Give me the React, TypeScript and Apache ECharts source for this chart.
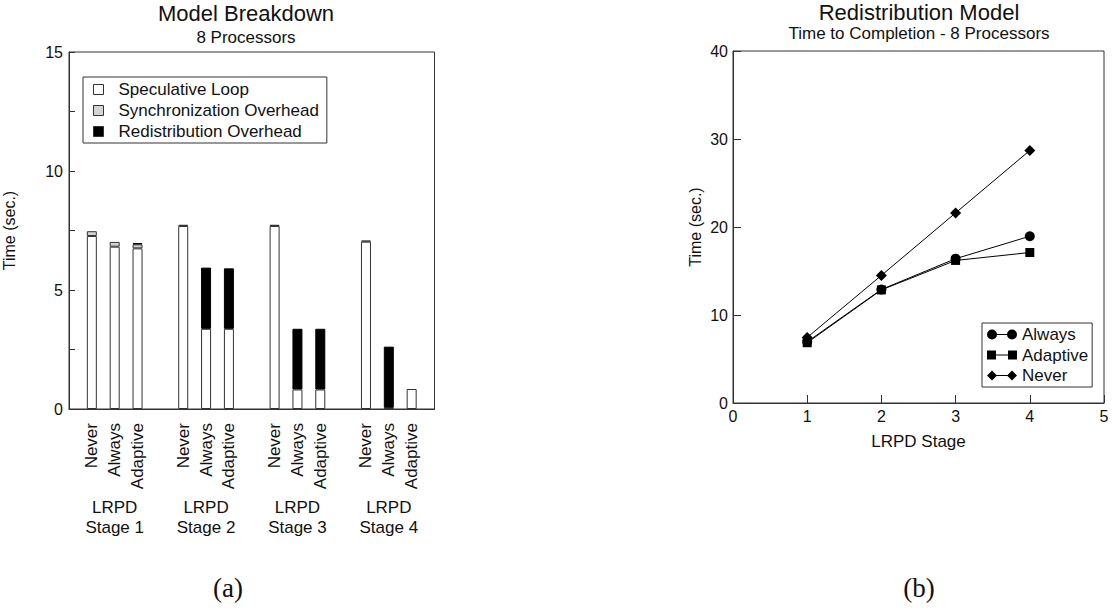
import React, { useEffect, useRef } from "react";
import * as echarts from "echarts";

// ---- Data: panel (a) Model Breakdown ----
const stageNames = ["Stage 1", "Stage 2", "Stage 3", "Stage 4"];
const modeNames = ["Never", "Always", "Adaptive"];
// order: stage-major (Stage1 Never, Always, Adaptive, Stage2 ...)
const speculativeLoop = [7.27, 6.82, 6.75, 7.69, 3.37, 3.37, 7.69, 0.82, 0.82, 7.03, 0.05, 0.84];
const syncOverhead = [0.2, 0.2, 0.17, 0.05, 0, 0, 0.05, 0, 0, 0.05, 0, 0];
const redistOverhead = [0, 0, 0.05, 0, 2.57, 2.54, 0, 2.55, 2.55, 0, 2.57, 0];
const leftYTicks = [0, 5, 10, 15];

// ---- Data: panel (b) Redistribution Model ----
const lrpdStage = [1, 2, 3, 4];
const alwaysTime = [6.95, 12.9, 16.4, 18.95];
const adaptiveTime = [6.85, 12.85, 16.2, 17.1];
const neverTime = [7.45, 14.5, 21.6, 28.7];

const FONT = "'Liberation Sans', Arial, Helvetica, sans-serif";
const SERIF = "'Liberation Serif', 'DejaVu Serif', 'Times New Roman', serif";
const INK = "#111";

export default function App() {
  const ref = useRef<HTMLDivElement>(null);

  useEffect(() => {
    if (!ref.current) return;
    const chart = echarts.init(ref.current, undefined, { renderer: "svg" });

    // Category slots: one empty slot before each group of three bars, one after the last
    const slots: string[] = [];
    const slotLabel: Record<string, string> = {};
    const groupLabel: Record<string, string> = {};
    const slotIndex: number[] = [];
    slots.push("gap0");
    stageNames.forEach((s, si) => {
      modeNames.forEach((m, mi) => {
        const key = "s" + si + "m" + mi;
        slotIndex.push(slots.length);
        slots.push(key);
        slotLabel[key] = m;
        if (mi === 1) groupLabel[key] = "LRPD\n" + s;
      });
      slots.push("gap" + (si + 1));
    });
    const toSlots = (arr: number[]) => {
      const out: (number | string)[] = slots.map(() => "-");
      arr.forEach((v, i) => {
        if (v > 0) out[slotIndex[i]] = v;
      });
      return out;
    };

    const circleIcon =
      "path://M0,5A5,5,0,1,1,10,5A5,5,0,1,1,0,5ZM9,4.55L21,4.55L21,5.45L9,5.45ZM20,5A5,5,0,1,1,30,5A5,5,0,1,1,20,5Z";
    const squareIcon =
      "path://M0,0.5L9,0.5L9,9.5L0,9.5ZM8,4.55L22,4.55L22,5.45L8,5.45ZM21,0.5L30,0.5L30,9.5L21,9.5Z";
    const diamondIcon =
      "path://M0,5L5,0L10,5L5,10ZM9,4.55L21,4.55L21,5.45L9,5.45ZM20,5L25,0L30,5L25,10Z";

    const option: any = {
      animation: false,
      backgroundColor: "#fff",
      textStyle: { fontFamily: FONT, color: INK },
      title: [
        {
          text: "Model Breakdown",
          subtext: "8 Processors",
          left: 246,
          top: 2,
          textAlign: "center",
          padding: 0,
          itemGap: 5,
          textStyle: { fontFamily: FONT, fontSize: 22, fontWeight: "normal", color: INK },
          subtextStyle: { fontFamily: FONT, fontSize: 17, color: INK },
        },
        {
          text: "Redistribution Model",
          subtext: "Time to Completion - 8 Processors",
          left: 919,
          top: 1,
          textAlign: "center",
          padding: 0,
          itemGap: 2,
          textStyle: { fontFamily: FONT, fontSize: 22, fontWeight: "normal", color: INK },
          subtextStyle: { fontFamily: FONT, fontSize: 17, color: INK },
        },
        {
          text: "(a)",
          left: 228,
          top: 574,
          textAlign: "center",
          padding: 0,
          textStyle: { fontFamily: SERIF, fontSize: 27, fontWeight: "normal", color: INK },
        },
        {
          text: "(b)",
          left: 919,
          top: 574,
          textAlign: "center",
          padding: 0,
          textStyle: { fontFamily: SERIF, fontSize: 27, fontWeight: "normal", color: INK },
        },
      ],
      legend: [
        {
          orient: "vertical",
          left: 83,
          top: 77,
          padding: [4, 8, 3, 10],
          itemGap: 4,
          itemWidth: 10,
          itemHeight: 10,
          borderColor: "#333",
          borderWidth: 1,
          backgroundColor: "#fff",
          icon: "rect",
          itemStyle: { borderColor: "#333", borderWidth: 1 },
          textStyle: { fontFamily: FONT, fontSize: 17, color: INK, padding: [0, 0, 0, 10] },
          data: ["Speculative Loop", "Synchronization Overhead", "Redistribution Overhead"],
        },
        {
          orient: "vertical",
          left: 982,
          top: 323,
          padding: [3, 4, 3, 5],
          itemGap: 3.5,
          itemWidth: 30,
          itemHeight: 10,
          borderColor: "#333",
          borderWidth: 1,
          backgroundColor: "#fff",
          textStyle: { fontFamily: FONT, fontSize: 17, color: INK },
          data: [
            { name: "Always", icon: circleIcon },
            { name: "Adaptive", icon: squareIcon },
            { name: "Never", icon: diamondIcon },
          ],
        },
      ],
      grid: [
        { left: 58.5, top: 52, width: 376, height: 357, show: true, borderColor: "#333", borderWidth: 1, backgroundColor: "transparent" },
        { left: 733, top: 51, width: 371, height: 352, show: true, borderColor: "#333", borderWidth: 1, backgroundColor: "transparent" },
      ],
      xAxis: [
        {
          type: "category",
          gridIndex: 0,
          data: slots,
          boundaryGap: false,
          axisLine: { show: true, lineStyle: { color: "#333" } },
          axisTick: { show: false },
          splitLine: { show: false },
          axisLabel: {
            interval: 0,
            rotate: 90,
            margin: 14,
            fontFamily: FONT,
            fontSize: 17,
            color: INK,
            formatter: (v: string) => slotLabel[v] || "",
          },
        },
        {
          type: "category",
          gridIndex: 0,
          position: "bottom",
          data: slots,
          boundaryGap: false,
          axisLine: { show: false },
          axisTick: { show: false },
          splitLine: { show: false },
          axisLabel: {
            interval: 0,
            margin: 88,
            fontFamily: FONT,
            fontSize: 17,
            lineHeight: 20,
            color: INK,
            formatter: (v: string) => groupLabel[v] || "",
          },
        },
        {
          type: "value",
          gridIndex: 1,
          min: 0,
          max: 5,
          interval: 1,
          name: "LRPD Stage",
          nameLocation: "middle",
          nameGap: 30,
          nameTextStyle: { fontFamily: FONT, fontSize: 17, color: INK },
          axisLine: { show: true, lineStyle: { color: "#333" } },
          axisTick: { show: true, inside: true, length: 8, lineStyle: { color: "#333" } },
          splitLine: { show: false },
          axisLabel: { margin: 5, fontFamily: FONT, fontSize: 16, color: INK },
        },
      ],
      yAxis: [
        {
          type: "value",
          gridIndex: 0,
          min: 0,
          max: 15,
          interval: 2.5,
          name: "Time (sec.)",
          nameLocation: "middle",
          nameGap: 38,
          nameTextStyle: { fontFamily: FONT, fontSize: 16, color: INK, padding: [0, 0, 14, 0] },
          axisLine: { show: true, lineStyle: { color: "#333" } },
          axisTick: { show: true, inside: true, length: 6, lineStyle: { color: "#333" } },
          splitLine: { show: false },
          axisLabel: {
            margin: 6,
            fontFamily: FONT,
            fontSize: 16,
            color: INK,
            formatter: (v: number) => (leftYTicks.indexOf(v) >= 0 ? String(v) : ""),
          },
        },
        {
          type: "value",
          gridIndex: 1,
          min: 0,
          max: 40,
          interval: 10,
          name: "Time (sec.)",
          nameLocation: "middle",
          nameGap: 30,
          nameTextStyle: { fontFamily: FONT, fontSize: 16, color: INK },
          axisLine: { show: true, lineStyle: { color: "#333" } },
          axisTick: { show: true, inside: true, length: 8, lineStyle: { color: "#333" } },
          splitLine: { show: false },
          axisLabel: { margin: 5, fontFamily: FONT, fontSize: 16, color: INK },
        },
      ],
      series: [
        {
          name: "Speculative Loop",
          type: "bar",
          xAxisIndex: 0,
          yAxisIndex: 0,
          stack: "t",
          barWidth: 10,
          itemStyle: { color: "#ffffff", borderColor: "#333", borderWidth: 1 },
          data: toSlots(speculativeLoop),
        },
        {
          name: "Synchronization Overhead",
          type: "bar",
          xAxisIndex: 0,
          yAxisIndex: 0,
          stack: "t",
          barWidth: 10,
          itemStyle: { color: "#d4d4d4", borderColor: "#333", borderWidth: 1 },
          data: toSlots(syncOverhead),
        },
        {
          name: "Redistribution Overhead",
          type: "bar",
          xAxisIndex: 0,
          yAxisIndex: 0,
          stack: "t",
          barWidth: 10,
          itemStyle: { color: "#000000", borderColor: "#000", borderWidth: 1 },
          data: toSlots(redistOverhead),
        },
        {
          name: "Never",
          type: "line",
          xAxisIndex: 2,
          yAxisIndex: 1,
          symbol: "diamond",
          symbolSize: 11,
          itemStyle: { color: "#000" },
          lineStyle: { color: "#000", width: 1 },
          data: lrpdStage.map((x, i) => [x, neverTime[i]]),
        },
        {
          name: "Adaptive",
          type: "line",
          xAxisIndex: 2,
          yAxisIndex: 1,
          symbol: "rect",
          symbolSize: 9,
          itemStyle: { color: "#000" },
          lineStyle: { color: "#000", width: 1 },
          data: lrpdStage.map((x, i) => [x, adaptiveTime[i]]),
        },
        {
          name: "Always",
          type: "line",
          xAxisIndex: 2,
          yAxisIndex: 1,
          symbol: "circle",
          symbolSize: 10,
          itemStyle: { color: "#000" },
          lineStyle: { color: "#000", width: 1 },
          data: lrpdStage.map((x, i) => [x, alwaysTime[i]]),
        },
      ],
    };

    chart.setOption(option);
    return () => chart.dispose();
  }, []);

  return (
    <div
      ref={ref}
      style={{ position: "fixed", left: 0, top: 0, width: 1115, height: 611, background: "#fff" }}
    />
  );
}
